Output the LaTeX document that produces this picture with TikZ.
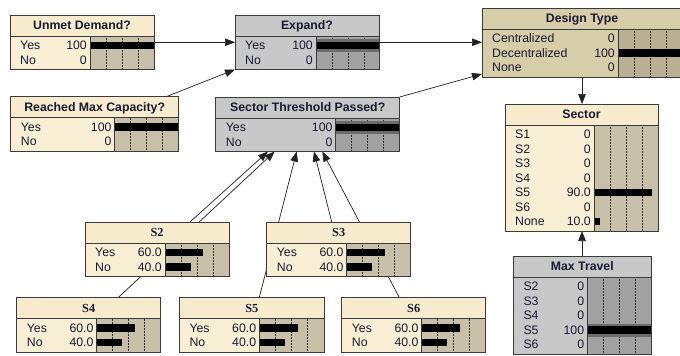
\documentclass[tikz,border=0pt]{standalone}
\usepackage{fontspec}
\setmainfont{Liberation Sans}
\newfontfamily\serfam{Liberation Serif}
\usetikzlibrary{arrows.meta,calc}
\pgfdeclarelayer{bg}
\pgfdeclarelayer{edges}
\pgfsetlayers{bg,edges,main}

\definecolor{titleC}{HTML}{F6ECCD}
\definecolor{rowC}{HTML}{F7EED3}
\definecolor{barC}{HTML}{C8BFA9}
\definecolor{titleT}{HTML}{D6CDA9}
\definecolor{rowT}{HTML}{D6CDA9}
\definecolor{barT}{HTML}{B9B093}
\definecolor{titleG}{HTML}{C8C8C8}
\definecolor{rowG}{HTML}{C8C8C8}
\definecolor{barG}{HTML}{A2A2A2}
\definecolor{ink}{HTML}{1A1A30}
\definecolor{edgecol}{HTML}{222222}
\definecolor{framecol}{HTML}{3A3A3A}

\tikzset{
  bntitle/.style={font=\fontsize{12.3}{14}\selectfont\bfseries, text=ink, inner sep=0, anchor=base},
  bnlabel/.style={font=\fontsize{12.3}{14}\selectfont, text=ink, inner sep=0, anchor=base west},
  bnvalue/.style={font=\fontsize{12.3}{14}\selectfont, text=ink, inner sep=0, anchor=base east},
  bnframe/.style={draw=framecol, line width=0.9pt},
  quarter/.style={draw=black!80, line width=0.5pt, densely dotted},
  edge/.style={draw=edgecol, line width=0.7pt, -{Triangle[length=10pt,width=7.5pt]}},
}

% #1 name, #2 left, #3 top, #4 width, #5 text width, #6 rows, #7 scheme, #8 title, #9 rows list
\newcommand\bnbox[9]{%
  \pgfmathsetmacro\bnH{25.5+#6*14.5}%
  \node[inner sep=0, outer sep=0, minimum width=#4*1pt, minimum height=\bnH*1pt, anchor=north west] (#1) at (#2,#3) {};
  \fill[row#7] (#2,#3) rectangle ++(#4,\bnH);
  \fill[title#7] (#2,#3) rectangle ++(#4,21);
  \fill[bar#7] (#2+#5,#3+21) rectangle (#2+#4,#3+\bnH);
  \foreach \k in {16,32,48} \draw[quarter] (#2+#5+\k,#3+21) -- (#2+#5+\k,#3+\bnH);
  \foreach \blab/\bval/\bfr/\bsel [count=\i from 0] in {#9} {
    \pgfmathsetmacro\yc{#3+23.25+14.5*(\i+0.5)}
    \ifnum\bsel=1 \fill[black!58] (#2+#5,\yc-6.5) rectangle (#2+#4,\yc+6.5); \fi
    \fill[black] (#2+#5,\yc-3.7) rectangle ++(64*\bfr,7.4);
    \node[bnlabel] at (#2+10,\yc+4.2) {\blab};
    \node[bnvalue] at (#2+#5-3,\yc+4.2) {\bval};
  }
  \draw[bnframe] (#2,#3+21) -- (#2+#4,#3+21);
  \draw[bnframe] (#2+#5,#3+21) -- (#2+#5,#3+\bnH);
  \draw[bnframe] (#2,#3) rectangle ++(#4,\bnH);
  \node[bntitle] at (#2+#4/2,#3+14.7) {#8};
}

\begin{document}
\begin{tikzpicture}[x=1pt,y=-1pt]
\useasboundingbox (0,0) rectangle (680,356);
\begin{pgfonlayer}{bg}
  \fill[white] (0,0) rectangle (680,356);
\end{pgfonlayer}

\bnbox{unmet}{10}{15}{144}{80}{2}{C}{Unmet Demand?}{Yes/100/1/0, No/0/0/0}
\bnbox{expand}{235}{15}{144}{81}{2}{G}{Expand?}{Yes/100/1/1, No/0/0/0}
\bnbox{dt}{482}{8}{200}{136}{3}{T}{Design Type}{Centralized/0/0/0, Decentralized/100/1/0, None/0/0/0}
\bnbox{rmc}{10.7}{96.5}{168}{104}{2}{C}{Reached Max Capacity?}{Yes/100/1/0, No/0/0/0}
\bnbox{thr}{215.7}{97}{184}{120}{2}{G}{Sector Threshold Passed?}{Yes/100/1/1, No/0/0/0}
\bnbox{sec}{505}{104}{153}{89}{7}{C}{Sector}{S1/0/0/0, S2/0/0/0, S3/0/0/0, S4/0/0/0, S5/90.0/0.9/0, S6/0/0/0, None/10.0/0.1/0}
\bnbox{mt}{513.3}{256}{138}{74}{5}{G}{Max Travel}{S2/0/0/0, S3/0/0/0, S4/0/0/0, S5/100/1/1, S6/0/0/0}
\bnbox{s2}{85}{222}{144}{80}{2}{C}{\serfam S2}{Yes/60.0/0.6/0, No/40.0/0.4/0}
\bnbox{s3}{266.7}{222}{144}{80}{2}{C}{\serfam S3}{Yes/60.0/0.6/0, No/40.0/0.4/0}
\bnbox{s4}{16.7}{297.5}{144}{80}{2}{C}{\serfam S4}{Yes/60.0/0.6/0, No/40.0/0.4/0}
\bnbox{s5}{179.3}{297.5}{145}{80}{2}{C}{\serfam S5}{Yes/60.0/0.6/0, No/40.0/0.4/0}
\bnbox{s6}{341.7}{297.5}{144}{80}{2}{C}{\serfam S6}{Yes/60.0/0.6/0, No/40.0/0.4/0}

\coordinate (secin) at ($(sec.north west)+(77,0)$);
\coordinate (secout) at ($(sec.south west)+(77,0)$);
\coordinate (rmcout) at ($(rmc.north west)+(156,0)$);
\coordinate (dtin) at ($(dt.south west)+(0,-3)$);
\coordinate (s2out) at ($(s2.north west)+(105,0)$);
\coordinate (s3out) at ($(s3.north west)+(65,0)$);
\coordinate (s4out) at ($(s4.north west)+(101.6,0)$);
\coordinate (s5out) at ($(s5.north west)+(80,0)$);
\coordinate (s6out) at ($(s6.north west)+(57.6,0)$);
\coordinate (thrin2) at ($(thr.south west)+(52.3,0)$);
\coordinate (thrin4) at ($(thr.south west)+(59,0)$);
\coordinate (thrin5) at ($(thr.south west)+(81,0)$);
\coordinate (thrin3) at ($(thr.south west)+(98.3,0)$);
\coordinate (thrin6) at ($(thr.south west)+(106.6,0)$);

\begin{pgfonlayer}{edges}
  \draw[edge] (unmet.east) -- (unmet.east -| expand.west);
  \draw[edge] (expand.east) -- (expand.east -| dt.west);
  \draw[edge] (rmcout) -- (expand.south west);
  \draw[edge] (thr.north east) -- (dtin);
  \draw[edge] (secin |- dt.south) -- (secin);
  \draw[edge] (secout |- mt.north) -- (secout);
  \draw[edge] (s2out) -- (thrin2);
  \draw[edge] (s4out) -- (thrin4);
  \draw[edge] (s5out) -- (thrin5);
  \draw[edge] (s3out) -- (thrin3);
  \draw[edge] (s6out) -- (thrin6);
\end{pgfonlayer}
\end{tikzpicture}
\end{document}
